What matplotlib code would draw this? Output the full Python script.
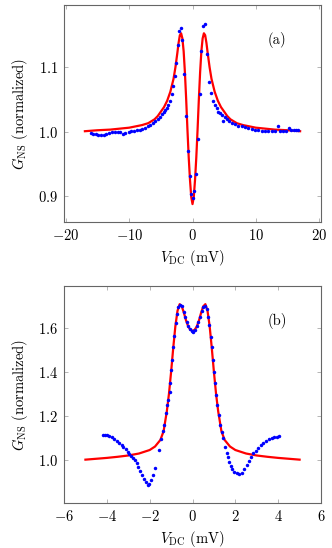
import numpy as np
import matplotlib
matplotlib.use("Agg")
import matplotlib.pyplot as plt

plt.rcParams["font.family"] = "serif"
plt.rcParams["font.serif"] = ["cmr10", "DejaVu Serif"]
plt.rcParams["mathtext.fontset"] = "cm"
plt.rcParams["axes.formatter.use_mathtext"] = True
plt.rcParams["axes.unicode_minus"] = True

# -----------------------------
# (a) data: measured points and fit
# -----------------------------
a_meas_v = [-16.1, -15.75, -15.3, -14.9, -14.5, -14.0, -13.6, -13.2, -12.7, -12.3,
            -11.8, -11.4, -10.98, -10.6, -10.1, -9.7, -9.2, -8.77, -8.35, -7.94,
            -7.47, -7.04, -6.67, -6.25, -5.89, -5.52, -5.2, -4.83, -4.57, -4.31,
            -4.05, -3.8, -3.55, -3.3, -3.1, -2.79, -2.53, -2.31, -2.06, -1.8,
            -1.59, -1.27, -1.01, -0.74, -0.43, -0.17, 0.09, 0.3, 0.62, 0.93,
            1.2, 1.4, 1.67, 1.98, 2.35, 2.66, 2.95, 3.25, 3.5, 3.8,
            4.08, 4.35, 4.66, 4.87, 5.08, 5.4, 5.81, 6.19, 6.7, 7.23,
            7.76, 8.28, 8.8, 9.34, 9.86, 10.4, 10.9, 11.4, 11.96, 12.5,
            13.0, 13.5, 13.9, 14.3, 14.8, 15.26, 15.6, 16.0, 16.4, 16.7]
a_meas_g = [0.997, 0.9964, 0.9964, 0.9953, 0.9953, 0.9953, 0.9964, 0.998, 0.999, 1.0,
            1.0, 0.999, 0.9964, 0.998, 0.9995, 1.001, 1.001, 1.002, 1.003, 1.0047,
            1.0058, 1.008, 1.010, 1.013, 1.016, 1.019, 1.023, 1.028, 1.031, 1.034,
            1.037, 1.041, 1.048, 1.058, 1.071, 1.087, 1.107, 1.134, 1.157, 1.162,
            1.142, 1.090, 1.024, 0.970, 0.930, 0.902, 0.897, 0.907, 0.934, 0.989,
            1.059, 1.125, 1.165, 1.168, 1.120, 1.077, 1.060, 1.048, 1.042, 1.036,
            1.031, 1.029, 1.026, 1.016, 1.022, 1.020, 1.016, 1.0135, 1.011, 1.009,
            1.008, 1.007, 1.005, 1.004, 1.003, 1.0026, 1.0016, 1.0016, 1.0005, 1.0005,
            1.0016, 1.009, 1.0005, 1.0005, 1.0016, 1.006, 1.003, 1.002, 1.003, 1.003]

a_fit_v = [-17, -15, -13, -11, -10, -9, -8, -7, -6, -5.5, -5, -4.5, -4, -3.5, -3,
           -2.7, -2.4, -2.2, -2.0, -1.8, -1.6, -1.4, -1.2, -1.0, -0.8, -0.6, -0.4,
           -0.2, 0, 0.2, 0.4, 0.6, 0.8, 1.0, 1.2, 1.4, 1.6, 1.8, 2.0, 2.2, 2.4,
           2.7, 3, 3.5, 4, 4.5, 5, 5.5, 6, 7, 8, 9, 10, 11, 13, 15, 17]
a_fit_g = [1.0005, 1.002, 1.003, 1.005, 1.006, 1.008, 1.010, 1.013, 1.019, 1.024,
           1.031, 1.038, 1.048, 1.062, 1.082, 1.100, 1.122, 1.138, 1.150, 1.153,
           1.145, 1.125, 1.092, 1.050, 1.003, 0.960, 0.925, 0.898, 0.887, 0.898,
           0.925, 0.960, 1.003, 1.050, 1.092, 1.125, 1.145, 1.153, 1.150, 1.138,
           1.122, 1.100, 1.082, 1.062, 1.048, 1.038, 1.031, 1.024, 1.019, 1.013,
           1.010, 1.008, 1.006, 1.005, 1.003, 1.002, 1.0005]

# -----------------------------
# (b) data: measured points and fit
# -----------------------------
b_meas_v = [-4.19, -4.08, -3.97, -3.88, -3.77, -3.66, -3.54, -3.41, -3.3, -3.23,
            -3.11, -3.02, -2.95, -2.86, -2.76, -2.68, -2.6, -2.53, -2.45, -2.36,
            -2.26, -2.18, -2.09, -2.02, -1.94, -1.83, -1.73, -1.55, -1.45, -1.37,
            -1.31, -1.25, -1.19, -1.13, -1.06, -1.03, -1.0, -0.94, -0.89, -0.85,
            -0.78, -0.72, -0.66, -0.58, -0.5, -0.42, -0.35, -0.27, -0.19, -0.11,
            -0.04, 0.04, 0.12, 0.2, 0.27, 0.35, 0.43, 0.51, 0.58, 0.66,
            0.74, 0.78, 0.85, 0.9, 0.94, 1.0, 1.05, 1.11, 1.16, 1.22,
            1.29, 1.36, 1.44, 1.52, 1.6, 1.66, 1.72, 1.78, 1.86, 1.95,
            2.06, 2.18, 2.3, 2.4, 2.53, 2.64, 2.73, 2.84, 2.96, 3.08,
            3.2, 3.31, 3.43, 3.56, 3.7, 3.82, 3.93, 4.02]
b_meas_g = [1.113, 1.113, 1.111, 1.108, 1.105, 1.096, 1.087, 1.078, 1.068, 1.059,
            1.047, 1.037, 1.027, 1.018, 1.009, 0.999, 0.986, 0.968, 0.948, 0.929,
            0.910, 0.897, 0.884, 0.889, 0.907, 0.929, 0.961, 1.044, 1.093, 1.132,
            1.158, 1.212, 1.25, 1.273, 1.311, 1.352, 1.41, 1.455, 1.516, 1.565,
            1.623, 1.665, 1.699, 1.706, 1.702, 1.676, 1.65, 1.630, 1.610, 1.595,
            1.588, 1.585, 1.592, 1.61, 1.63, 1.653, 1.680, 1.699, 1.702, 1.687,
            1.653, 1.615, 1.562, 1.516, 1.455, 1.402, 1.349, 1.295, 1.25, 1.204,
            1.158, 1.128, 1.098, 1.057, 1.032, 1.011, 0.991, 0.973, 0.956, 0.942,
            0.938, 0.935, 0.941, 0.956, 0.976, 0.995, 1.014, 1.029, 1.041, 1.055,
            1.067, 1.075, 1.085, 1.093, 1.098, 1.102, 1.105, 1.108]

b_fit_v = [-5, -4.5, -4, -3.5, -3, -2.5, -2.0, -1.75, -1.5, -1.35, -1.2, -1.1, -1.0,
           -0.9, -0.8, -0.7, -0.6, -0.5, -0.4, -0.3, -0.2, -0.1, 0, 0.1, 0.2, 0.3,
           0.4, 0.5, 0.6, 0.7, 0.8, 0.9, 1.0, 1.1, 1.2, 1.35, 1.5, 1.75, 2.0, 2.5,
           3, 3.5, 4, 4.5, 5]
b_fit_g = [1.000, 1.004, 1.008, 1.013, 1.019, 1.028, 1.044, 1.060, 1.090, 1.130,
           1.220, 1.300, 1.400, 1.510, 1.610, 1.680, 1.710, 1.700, 1.670, 1.635,
           1.608, 1.593, 1.588, 1.593, 1.608, 1.635, 1.670, 1.700, 1.710, 1.680,
           1.610, 1.510, 1.400, 1.300, 1.220, 1.130, 1.090, 1.060, 1.044, 1.028,
           1.019, 1.013, 1.008, 1.004, 1.000]

# -----------------------------
# Figure
# -----------------------------
fig = plt.figure(figsize=(3.32, 5.48), dpi=100)
ax1 = fig.add_axes([0.1928, 0.5943, 0.7741, 0.3965])
ax2 = fig.add_axes([0.1928, 0.0821, 0.7741, 0.3960])

panels = [
    (ax1, a_meas_v, a_meas_g, a_fit_v, a_fit_g, (-20.3, 20.3), (0.8586, 1.197),
     [-20, -10, 0, 10, 20], [0.9, 1.0, 1.1], "(a)"),
    (ax2, b_meas_v, b_meas_g, b_fit_v, b_fit_g, (-6, 6), (0.802, 1.793),
     [-6, -4, -2, 0, 2, 4, 6], [1.0, 1.2, 1.4, 1.6], "(b)"),
]

for ax, mv, mg, fv, fg, xl, yl, xt, yt, tag in panels:
    ax.plot(fv, fg, color="red", lw=1.6, zorder=2)
    ax.plot(mv, mg, "o", color="blue", ms=2.5, mew=0, zorder=3)
    ax.set_xlim(*xl)
    ax.set_ylim(*yl)
    ax.set_xticks(xt)
    ax.set_yticks(yt)
    ax.tick_params(direction="in", top=True, right=True, length=3, width=0.6,
                   color="#aaaaaa", labelsize=10.5, pad=4)
    for s in ax.spines.values():
        s.set_color("#666666")
        s.set_linewidth(0.8)
    ax.set_xlabel(r"$V_{\mathrm{DC}}$ (mV)", fontsize=10.5, labelpad=4)
    ax.set_ylabel(r"$G_{\mathrm{NS}}$ (normalized)", fontsize=10.5, labelpad=6)
    ax.text(0.83, 0.84, tag, transform=ax.transAxes, fontsize=10.5,
            ha="center", va="center")

fig.savefig("out.png", dpi=100)
